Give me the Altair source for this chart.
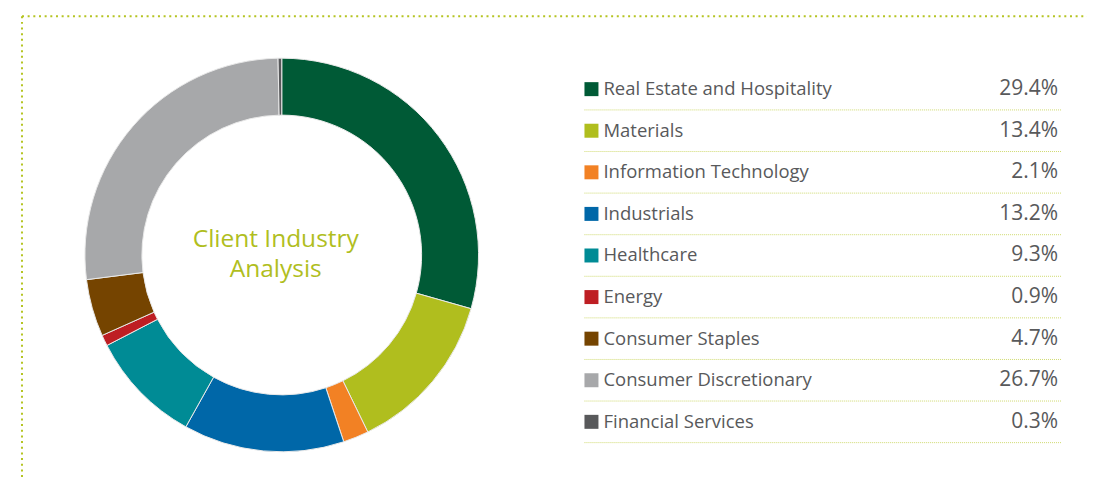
import altair as alt
import pandas as pd

categories = [
    "Real Estate and Hospitality",
    "Materials",
    "Information Technology",
    "Industrials",
    "Healthcare",
    "Energy",
    "Consumer Staples",
    "Consumer Discretionary",
    "Financial Services",
]
values = [29.4, 13.4, 2.1, 13.2, 9.3, 0.9, 4.7, 26.7, 0.3]
colors = ["#005a36", "#b0be1e", "#f28124", "#0067a8", "#008b95",
          "#be1e23", "#754400", "#a7a8aa", "#58595b"]
title_lines = "Client Industry\nAnalysis"

df = pd.DataFrame({
    "category": categories,
    "value": values,
    "idx": list(range(len(categories))),
    "label": [f"{v:.1f}%" for v in values],
})
df["sep"] = df["idx"] + 0.5

FONT = "Open Sans"
TEXT_COLOR = "#58595b"
ACCENT = "#b0be1e"

color_enc = alt.Color("category:N", scale=alt.Scale(domain=categories, range=colors), legend=None)
row_scale = alt.Scale(domain=[0, 8], range=[81, 414])

donut = alt.Chart(df).mark_arc(
    innerRadius=140, outerRadius=197, stroke="#e9e9e9", strokeWidth=1
).encode(
    theta=alt.Theta("value:Q", stack=True),
    order=alt.Order("idx:Q"),
    color=color_enc,
    x=alt.value(274),
    y=alt.value(247),
)

center = alt.Chart(pd.DataFrame({"t": [title_lines]})).mark_text(
    font=FONT, fontSize=24.5, color=ACCENT, lineBreak="\n", lineHeight=30,
    align="center", baseline="middle"
).encode(text="t:N", x=alt.value(268), y=alt.value(232))

squares = alt.Chart(df).mark_square(size=196, opacity=1).encode(
    y=alt.Y("idx:Q", scale=row_scale, axis=None),
    x=alt.value(584),
    color=color_enc,
)

names = alt.Chart(df).mark_text(
    font=FONT, fontSize=18.5, color=TEXT_COLOR, align="left", baseline="middle"
).encode(
    y=alt.Y("idx:Q", scale=row_scale, axis=None),
    x=alt.value(596),
    text="category:N",
)

pcts = alt.Chart(df).mark_text(
    font=FONT, fontSize=21, color=TEXT_COLOR, align="right", baseline="middle"
).encode(
    y=alt.Y("idx:Q", scale=row_scale, axis=None),
    x=alt.value(1051),
    text="label:N",
)

seps = alt.Chart(df).mark_rule(
    color="#cfda6e", strokeWidth=1, strokeDash=[1, 1]
).encode(
    y=alt.Y("sep:Q", scale=row_scale, axis=None),
    x=alt.value(577),
    x2=alt.value(1054),
)

one = pd.DataFrame({"a": [0]})
border_top = alt.Chart(one).mark_rule(
    color="#b5c422", strokeWidth=2, strokeDash=[2, 3.67]
).encode(x=alt.value(14), x2=alt.value(1080), y=alt.value(8))
border_left = alt.Chart(one).mark_rule(
    color="#b5c422", strokeWidth=2, strokeDash=[2, 3.67]
).encode(x=alt.value(14), y=alt.value(8), y2=alt.value(470))

chart = alt.layer(
    border_top, border_left, donut, center, seps, squares, names, pcts
).properties(
    width=1080, height=470, padding=0
).configure_view(stroke=None)

chart.save("out.html", embed_options={"renderer": "svg", "actions": False})
